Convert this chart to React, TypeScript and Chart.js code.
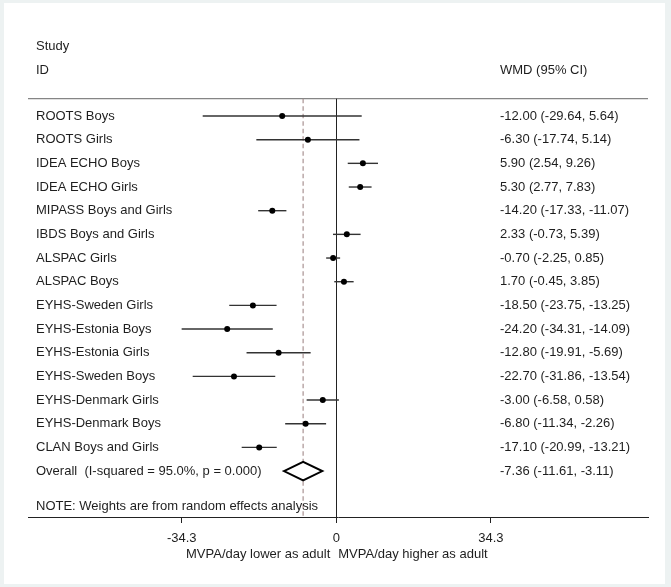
import { useEffect, useRef } from "react";
import { Chart, registerables } from "chart.js";

Chart.register(...registerables);

const studies = [
  "ROOTS Boys",
  "ROOTS Girls",
  "IDEA ECHO Boys",
  "IDEA ECHO Girls",
  "MIPASS Boys and Girls",
  "IBDS Boys and Girls",
  "ALSPAC Girls",
  "ALSPAC Boys",
  "EYHS-Sweden Girls",
  "EYHS-Estonia Boys",
  "EYHS-Estonia Girls",
  "EYHS-Sweden Boys",
  "EYHS-Denmark Girls",
  "EYHS-Denmark Boys",
  "CLAN Boys and Girls",
];
const estimates = [-12.0, -6.3, 5.9, 5.3, -14.2, 2.33, -0.7, 1.7, -18.5, -24.2, -12.8, -22.7, -3.0, -6.8, -17.1];
const lowerCI = [-29.64, -17.74, 2.54, 2.77, -17.33, -0.73, -2.25, -0.45, -23.75, -34.31, -19.91, -31.86, -6.58, -11.34, -20.99];
const upperCI = [5.64, 5.14, 9.26, 7.83, -11.07, 5.39, 0.85, 3.85, -13.25, -14.09, -5.69, -13.54, 0.58, -2.26, -13.21];

const overallLabel = "Overall  (I-squared = 95.0%, p = 0.000)";
const overallEst = -7.36;
const overallLo = -11.61;
const overallHi = -3.11;

const xTicks = [-34.3, 0, 34.3];
const headerStudy = "Study";
const headerId = "ID";
const headerEffect = "WMD (95% CI)";
const noteText = "NOTE: Weights are from random effects analysis";
const axisLeftLabel = "MVPA/day lower as adult";
const axisRightLabel = "MVPA/day higher as adult";

const FONT = '"Liberation Sans", Arial, sans-serif';
const TEXT = "#1e1e1e";

const fmt = (v: number) => v.toFixed(2);

const forestPlugin = {
  id: "forest",
  beforeDraw(chart: any) {
    const { ctx, width, height } = chart;
    ctx.save();
    ctx.fillStyle = "#edf2f2";
    ctx.fillRect(0, 0, width, height);
    ctx.fillStyle = "#ffffff";
    ctx.fillRect(4, 3, 661, 581);
    ctx.restore();
  },
  beforeDatasetsDraw(chart: any) {
    const { ctx, chartArea } = chart;
    const xs = chart.scales.x;
    const ys = chart.scales.y;
    ctx.save();
    // top rule
    ctx.strokeStyle = "#858585";
    ctx.lineWidth = 1.2;
    ctx.beginPath();
    ctx.moveTo(chartArea.left, chartArea.top);
    ctx.lineTo(chartArea.right, chartArea.top);
    ctx.stroke();
    // null line
    const x0 = xs.getPixelForValue(0);
    ctx.strokeStyle = "#222";
    ctx.lineWidth = 1;
    ctx.beginPath();
    ctx.moveTo(Math.round(x0) + 0.5, chartArea.top);
    ctx.lineTo(Math.round(x0) + 0.5, chartArea.bottom);
    ctx.stroke();
    // overall dashed line
    const xo = xs.getPixelForValue(overallEst);
    ctx.strokeStyle = "#a99393";
    ctx.lineWidth = 1.2;
    ctx.setLineDash([4.5, 3]);
    ctx.beginPath();
    ctx.moveTo(xo, chartArea.top);
    ctx.lineTo(xo, chartArea.bottom);
    ctx.stroke();
    ctx.setLineDash([]);
    // CI lines
    ctx.strokeStyle = "#333333";
    ctx.lineWidth = 1.4;
    studies.forEach((_, i) => {
      const y = ys.getPixelForValue(i);
      ctx.beginPath();
      ctx.moveTo(xs.getPixelForValue(lowerCI[i]), y);
      ctx.lineTo(xs.getPixelForValue(upperCI[i]), y);
      ctx.stroke();
    });
    ctx.restore();
  },
  afterDatasetsDraw(chart: any) {
    const { ctx, chartArea } = chart;
    const xs = chart.scales.x;
    const ys = chart.scales.y;
    ctx.save();
    // diamond
    const yo = ys.getPixelForValue(studies.length);
    const hh = ys.getPixelForValue(studies.length + 0.39) - yo;
    ctx.beginPath();
    ctx.moveTo(xs.getPixelForValue(overallLo), yo);
    ctx.lineTo(xs.getPixelForValue(overallEst), yo - hh);
    ctx.lineTo(xs.getPixelForValue(overallHi), yo);
    ctx.lineTo(xs.getPixelForValue(overallEst), yo + hh);
    ctx.closePath();
    ctx.fillStyle = "#ffffff";
    ctx.fill();
    ctx.strokeStyle = "#000";
    ctx.lineWidth = 2;
    ctx.lineJoin = "miter";
    ctx.stroke();

    // texts
    ctx.fillStyle = TEXT;
    ctx.font = `13px ${FONT}`;
    ctx.textBaseline = "middle";
    ctx.textAlign = "left";
    const leftX = chartArea.left + 8;
    const rightX = chartArea.left + 472;
    ctx.fillText(headerStudy, leftX, chartArea.top - 52.5);
    ctx.fillText(headerId, leftX, chartArea.top - 28.5);
    ctx.fillText(headerEffect, rightX, chartArea.top - 28.5);
    studies.forEach((s, i) => {
      const y = ys.getPixelForValue(i);
      ctx.fillText(s, leftX, y);
      ctx.fillText(`${fmt(estimates[i])} (${fmt(lowerCI[i])}, ${fmt(upperCI[i])})`, rightX, y);
    });
    ctx.fillText(overallLabel, leftX, yo);
    ctx.fillText(`${fmt(overallEst)} (${fmt(overallLo)}, ${fmt(overallHi)})`, rightX, yo);
    ctx.fillText(noteText, leftX, ys.getPixelForValue(studies.length + 1.5));

    // axis title
    const x0 = xs.getPixelForValue(0);
    const ty = chartArea.bottom + 37.5;
    ctx.textAlign = "right";
    ctx.fillText(axisLeftLabel, x0 - 6, ty);
    ctx.textAlign = "left";
    ctx.fillText(axisRightLabel, x0 + 2, ty);
    ctx.restore();
  },
};

export default function App() {
  const ref = useRef<HTMLCanvasElement>(null);
  useEffect(() => {
    const canvas = ref.current;
    if (!canvas) return;
    const chart = new Chart(canvas, {
      type: "scatter",
      data: {
        datasets: [
          {
            data: estimates.map((v, i) => ({ x: v, y: i })),
            pointRadius: 3,
            pointBackgroundColor: "#000",
            pointBorderWidth: 0,
            showLine: false,
          },
        ],
      },
      options: {
        animation: false,
        responsive: false,
        layout: { padding: { left: 28, right: 23, top: 98.7, bottom: 32.4 } },
        plugins: { legend: { display: false }, tooltip: { enabled: false } },
        scales: {
          x: {
            type: "linear",
            min: -68.4,
            max: 69.16,
            afterBuildTicks: (s: any) => {
              s.ticks = xTicks.map((v) => ({ value: v }));
            },
            ticks: {
              font: { family: FONT, size: 13 },
              color: TEXT,
              padding: 8,
              autoSkip: false,
              maxRotation: 0,
              callback: (v: any) => String(v),
            },
            grid: { drawOnChartArea: false, drawTicks: true, tickLength: 6, color: "#222" },
            border: { display: true, color: "#222", width: 1 },
          },
          y: {
            type: "linear",
            display: false,
            reverse: true,
            min: -0.731,
            max: 16.94,
          },
        },
      },
      plugins: [forestPlugin],
    } as any);
    return () => chart.destroy();
  }, []);
  return (
    <div style={{ position: "fixed", left: 0, top: 0, width: 671, height: 587 }}>
      <canvas ref={ref} width={671} height={587} style={{ display: "block" }} />
    </div>
  );
}
